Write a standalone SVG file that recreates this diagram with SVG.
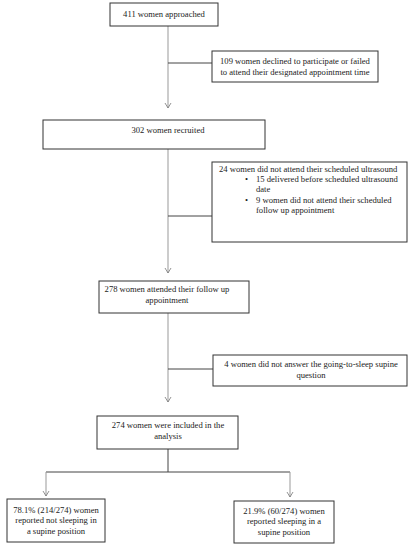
<svg xmlns="http://www.w3.org/2000/svg" width="413" height="550" viewBox="0 0 413 550">
<defs>
<marker id="arr" markerWidth="8" markerHeight="8" refX="6" refY="4" orient="auto" markerUnits="userSpaceOnUse" viewBox="0 0 8 8">
<path d="M1,1 L6,4 L1,7" fill="none" stroke="#777" stroke-width="0.8"/>
</marker>
</defs>
<style>
.box{fill:#fff;stroke:#333;stroke-width:1}
.t{font-family:"Liberation Serif","DejaVu Serif",serif;font-size:8.6px;fill:#222}
.c{text-anchor:middle}
.v{fill:none;stroke:#999;stroke-width:1}
.h{fill:none;stroke:#444;stroke-width:1}
</style>
<rect width="413" height="550" fill="#fff"/>
<g id="connectors">
<line class="v" x1="168" y1="26" x2="168" y2="108" marker-end="url(#arr)"/>
<line class="h" x1="168" y1="63" x2="212" y2="63"/>
<line class="v" x1="168" y1="149" x2="168" y2="273" marker-end="url(#arr)"/>
<line class="h" x1="168" y1="216" x2="212" y2="216"/>
<line class="v" x1="168" y1="313" x2="168" y2="402" marker-end="url(#arr)"/>
<line class="h" x1="168" y1="369" x2="213" y2="369"/>
<polyline class="h" points="168,449 168,472"/>
<polyline class="h" points="46,472 290,472"/>
<line class="v" x1="46" y1="472" x2="46" y2="496" marker-end="url(#arr)"/>
<line class="v" x1="290" y1="472" x2="290" y2="497" marker-end="url(#arr)"/>
</g>
<g id="n1">
<rect class="box" x="110" y="3" width="108" height="23"/>
<text class="t c" x="164" y="17">411 women approached</text>
</g>
<g id="n2">
<rect class="box" x="212" y="51" width="166" height="31"/>
<text class="t c" x="295" y="64">109 women declined to participate or failed</text>
<text class="t c" x="295" y="75">to attend their designated appointment time</text>
</g>
<g id="n3">
<rect class="box" x="43" y="120" width="222" height="29"/>
<text class="t c" x="168" y="133">302 women recruited</text>
</g>
<g id="n4">
<rect class="box" x="212" y="162" width="195" height="80"/>
<text class="t" x="219" y="172">24 women did not attend their scheduled ultrasound</text>
<text class="t" x="245" y="182">•</text>
<text class="t" x="256" y="182">15 delivered before scheduled ultrasound</text>
<text class="t" x="256" y="192">date</text>
<text class="t" x="245" y="203">•</text>
<text class="t" x="256" y="203">9 women did not attend their scheduled</text>
<text class="t" x="256" y="213">follow up appointment</text>
</g>
<g id="n5">
<rect class="box" x="99" y="281" width="150" height="32"/>
<text class="t c" x="167" y="292">278 women attended their follow up</text>
<text class="t c" x="167" y="303">appointment</text>
</g>
<g id="n6">
<rect class="box" x="213" y="355" width="194" height="31"/>
<text class="t c" x="311" y="367">4 women did not answer the going-to-sleep supine</text>
<text class="t c" x="311" y="378">question</text>
</g>
<g id="n7">
<rect class="box" x="97" y="416" width="141" height="33"/>
<text class="t c" x="168" y="428">274 women were included in the</text>
<text class="t c" x="168" y="439">analysis</text>
</g>
<g id="n8">
<rect class="box" x="7" y="499" width="98" height="43"/>
<text class="t c" x="56" y="513">78.1% (214/274) women</text>
<text class="t c" x="56" y="523">reported not sleeping in</text>
<text class="t c" x="56" y="534">a supine position</text>
</g>
<g id="n9">
<rect class="box" x="234" y="501" width="100" height="42"/>
<text class="t c" x="284" y="514">21.9% (60/274) women</text>
<text class="t c" x="284" y="524">reported sleeping in a</text>
<text class="t c" x="284" y="535">supine position</text>
</g>
</svg>
